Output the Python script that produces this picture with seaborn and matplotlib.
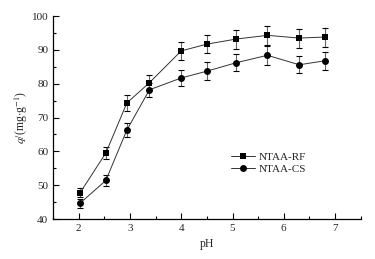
import matplotlib
matplotlib.use("Agg")
import matplotlib.pyplot as plt
import seaborn as sns
import pandas as pd
from matplotlib.ticker import MultipleLocator

ph = [2.03, 2.53, 2.94, 3.38, 4.0, 4.5, 5.07, 5.68, 6.3, 6.81]
rf = [47.8, 59.5, 74.3, 80.3, 89.7, 91.7, 93.2, 94.3, 93.5, 93.8]
rf_err = [1.3, 1.7, 2.3, 2.3, 2.7, 2.7, 2.8, 2.9, 2.8, 2.8]
cs = [44.7, 51.4, 66.3, 78.2, 81.7, 83.7, 86.2, 88.4, 85.6, 86.8]
cs_err = [1.3, 1.6, 2.0, 2.0, 2.4, 2.6, 2.5, 2.8, 2.5, 2.6]
labels = ["NTAA-RF", "NTAA-CS"]

sns.set_theme(style="ticks")
plt.rcParams["font.family"] = ["Liberation Serif", "DejaVu Serif"]
plt.rcParams["mathtext.fontset"] = "stix"

df = pd.DataFrame({
    "pH": ph + ph,
    "q": rf + cs,
    "series": [labels[0]] * len(ph) + [labels[1]] * len(ph),
})

fig = plt.figure(figsize=(3.75, 2.59), dpi=100)
ax = fig.add_axes([0.1413, 0.1544, 0.8207, 0.7836])

for vals, errs in [(rf, rf_err), (cs, cs_err)]:
    ax.errorbar(ph, vals, yerr=errs, fmt="none", ecolor="#666666",
                elinewidth=0.8, capsize=2, capthick=0.8, zorder=1)

sns.lineplot(data=df, x="pH", y="q", hue="series", style="series",
             markers={labels[0]: "s", labels[1]: "o"}, dashes=False,
             palette={labels[0]: "black", labels[1]: "black"},
             linewidth=0.7, markersize=5, markeredgewidth=0,
             ax=ax, zorder=3)

for line in ax.lines:
    line.set_color("#333333")
    line.set_markerfacecolor("black")
    line.set_markeredgecolor("black")

ax.set_xlim(1.5, 7.5)
ax.set_ylim(40, 100)
ax.xaxis.set_major_locator(MultipleLocator(1))
ax.xaxis.set_minor_locator(MultipleLocator(0.5))
ax.yaxis.set_major_locator(MultipleLocator(10))
ax.yaxis.set_minor_locator(MultipleLocator(5))
ax.tick_params(which="both", direction="in", labelsize=8, width=0.8, color="black")
ax.tick_params(which="major", length=4)
ax.tick_params(which="minor", length=2.5)
sns.despine(ax=ax)
for s in ["left", "bottom"]:
    ax.spines[s].set_linewidth(0.9)
    ax.spines[s].set_color("black")

ax.set_xlabel("pH", fontsize=8.5)
ax.set_ylabel(r"$q$/(mg$\cdot$g$^{-1}$)", fontsize=8.5, labelpad=1)

handles, labs = ax.get_legend_handles_labels()
leg = ax.legend(handles, labs, loc="center left", bbox_to_anchor=(0.56, 0.275),
                frameon=False, fontsize=8, handlelength=2.2, handletextpad=0.3,
                labelspacing=0.2, borderpad=0)

fig.savefig("out.png", dpi=100)
